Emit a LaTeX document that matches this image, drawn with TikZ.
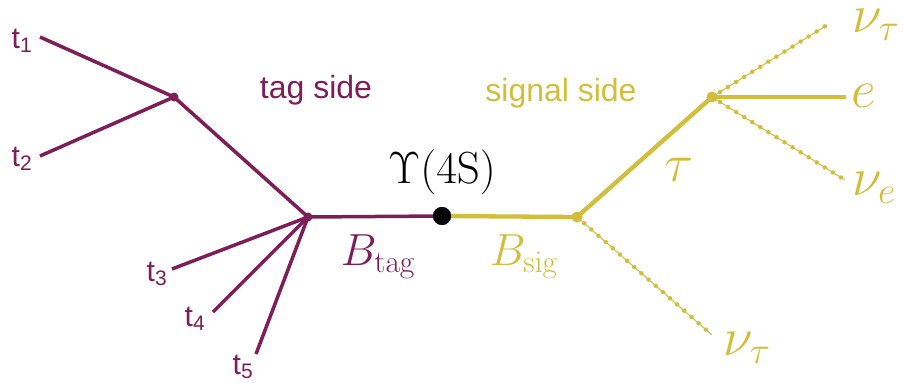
\RequirePackage{fix-cm}
\documentclass[tikz,border=0pt]{standalone}
\usepackage[no-math]{fontspec}
\setmainfont{Liberation Sans}
\definecolor{tagc}{RGB}{125,30,88}
\definecolor{sigc}{RGB}{210,190,58}
\begin{document}
\begin{tikzpicture}[x=1pt,y=-1pt,
  tagline/.style={draw=tagc,line width=3.5pt},
  sigline/.style={draw=sigc,line width=4.3pt},
  nuline/.style={draw=sigc,line width=1pt,postaction={draw=sigc,line width=4.5pt,line cap=round,dash pattern=on 0pt off 9.5pt}},
  tagdot/.style={circle,fill=tagc,inner sep=0pt,minimum size=9pt},
  sigdot/.style={circle,fill=sigc,inner sep=0pt,minimum size=11pt},
  tlab/.style={text=tagc,font=\fontsize{30}{34}\selectfont,inner sep=0pt},
  sidelab/.style={font=\fontsize{32}{38}\selectfont,inner sep=0pt},
  mlab/.style={text=sigc,font=\fontsize{54}{60}\selectfont,inner sep=0pt},
  blab/.style={font=\fontsize{45}{50}\selectfont,inner sep=0pt}]
\useasboundingbox (0,0) rectangle (903,383);
% vertices
\node[tagdot] (vt) at (308,217) {};
\node[tagdot] (vu) at (174,97) {};
\node[sigdot] (vs) at (577,217) {};
\node[sigdot] (vtau) at (712,97) {};
% end points
\coordinate (e1) at (40,37);
\coordinate (e2) at (40,156);
\coordinate (e3) at (172,269);
\coordinate (e4) at (213,312);
\coordinate (e5) at (256,354);
\coordinate (n1) at (827,25);
\coordinate (ee) at (846,97);
\coordinate (ne) at (845,180);
\coordinate (n2) at (712,335);
% lines
\draw[tagline] (e1) -- (vu.center);
\draw[tagline] (e2) -- (vu.center);
\draw[tagline] (vu.center) -- (vt.center);
\draw[tagline] (e3) -- (vt.center);
\draw[tagline] (e4) -- (vt.center);
\draw[tagline] (e5) -- (vt.center);
\node[circle,fill=black,inner sep=0pt,minimum size=18pt] (ups) at (442,216) {};
\draw[tagline] (vt.center) -- (ups);
\draw[sigline] (ups) -- (vs.center);
\draw[sigline] (vs.center) -- (vtau.center);
\draw[sigline] (vtau.center) -- (ee);
\draw[nuline] (vs.center) -- (n2);
\draw[nuline] (vtau.center) -- (n1);
\draw[nuline] (vtau.center) -- (ne);
\node[circle,fill=black,inner sep=0pt,minimum size=18pt] at (ups) {};
% labels
\node[tlab] (t1) at (22,41) {t\textsubscript{1}};
\node[tlab] (t2) at (22,159) {t\textsubscript{2}};
\node[tlab] (t3) at (157,274) {t\textsubscript{3}};
\node[tlab] (t4) at (195,319) {t\textsubscript{4}};
\node[tlab] (t5) at (243,367) {t\textsubscript{5}};
\node[sidelab,text=tagc] (tagside) at (316,90) {tag side};
\node[sidelab,text=sigc] (sigside) at (561,93) {signal side};
\node[blab] (upsl) at (442,172) {$\Upsilon(4\mathrm{S})$};
\node[blab,text=tagc] (btag) at (378,257) {$B_{\mathrm{tag}}$};
\node[blab,text=sigc] (bsig) at (524,257) {$B_{\mathrm{sig}}$};
\node[mlab] (lnu1) at (876,25) {$\nu_\tau$};
\node[mlab] (le) at (864,96) {$e$};
\node[mlab] (lnue) at (874,188) {$\nu_e$};
\node[mlab] (lnu2) at (747,348) {$\nu_\tau$};
\node[mlab] (ltau) at (679,170) {$\tau$};
\end{tikzpicture}
\end{document}
